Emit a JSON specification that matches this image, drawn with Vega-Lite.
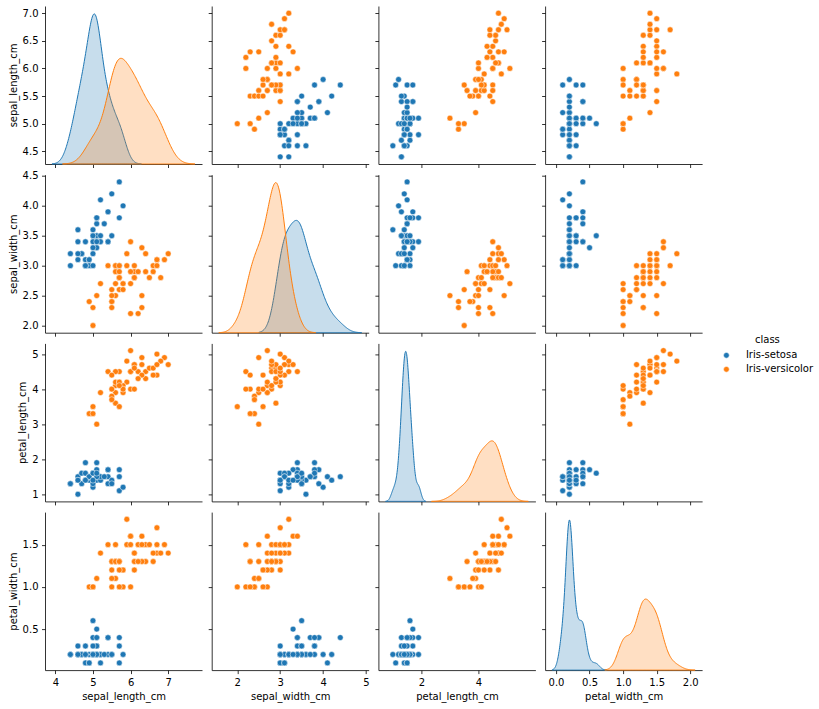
{
"$schema":"https://vega.github.io/schema/vega-lite/v6.json",
"padding":{"left":8,"top":6,"right":5,"bottom":5},
"background":"white",
"datasets":{"iris":[
{"sepal_length_cm":5.1,"sepal_width_cm":3.5,"petal_length_cm":1.4,"petal_width_cm":0.2,"class":"Iris-setosa"},
{"sepal_length_cm":4.9,"sepal_width_cm":3.0,"petal_length_cm":1.4,"petal_width_cm":0.2,"class":"Iris-setosa"},
{"sepal_length_cm":4.7,"sepal_width_cm":3.2,"petal_length_cm":1.3,"petal_width_cm":0.2,"class":"Iris-setosa"},
{"sepal_length_cm":4.6,"sepal_width_cm":3.1,"petal_length_cm":1.5,"petal_width_cm":0.2,"class":"Iris-setosa"},
{"sepal_length_cm":5.0,"sepal_width_cm":3.6,"petal_length_cm":1.4,"petal_width_cm":0.2,"class":"Iris-setosa"},
{"sepal_length_cm":5.4,"sepal_width_cm":3.9,"petal_length_cm":1.7,"petal_width_cm":0.4,"class":"Iris-setosa"},
{"sepal_length_cm":4.6,"sepal_width_cm":3.4,"petal_length_cm":1.4,"petal_width_cm":0.3,"class":"Iris-setosa"},
{"sepal_length_cm":4.8,"sepal_width_cm":3.0,"petal_length_cm":1.4,"petal_width_cm":0.1,"class":"Iris-setosa"},
{"sepal_length_cm":5.7,"sepal_width_cm":3.0,"petal_length_cm":1.1,"petal_width_cm":0.1,"class":"Iris-setosa"},
{"sepal_length_cm":5.8,"sepal_width_cm":4.0,"petal_length_cm":1.2,"petal_width_cm":0.2,"class":"Iris-setosa"},
{"sepal_length_cm":5.7,"sepal_width_cm":4.4,"petal_length_cm":1.5,"petal_width_cm":0.4,"class":"Iris-setosa"},
{"sepal_length_cm":5.4,"sepal_width_cm":3.9,"petal_length_cm":1.3,"petal_width_cm":0.4,"class":"Iris-setosa"},
{"sepal_length_cm":5.1,"sepal_width_cm":3.5,"petal_length_cm":1.4,"petal_width_cm":0.3,"class":"Iris-setosa"},
{"sepal_length_cm":5.7,"sepal_width_cm":3.8,"petal_length_cm":1.7,"petal_width_cm":0.3,"class":"Iris-setosa"},
{"sepal_length_cm":5.1,"sepal_width_cm":3.8,"petal_length_cm":1.5,"petal_width_cm":0.3,"class":"Iris-setosa"},
{"sepal_length_cm":5.4,"sepal_width_cm":3.4,"petal_length_cm":1.7,"petal_width_cm":0.2,"class":"Iris-setosa"},
{"sepal_length_cm":5.1,"sepal_width_cm":3.7,"petal_length_cm":1.5,"petal_width_cm":0.4,"class":"Iris-setosa"},
{"sepal_length_cm":4.6,"sepal_width_cm":3.6,"petal_length_cm":1.0,"petal_width_cm":0.2,"class":"Iris-setosa"},
{"sepal_length_cm":5.1,"sepal_width_cm":3.3,"petal_length_cm":1.7,"petal_width_cm":0.5,"class":"Iris-setosa"},
{"sepal_length_cm":4.8,"sepal_width_cm":3.4,"petal_length_cm":1.9,"petal_width_cm":0.2,"class":"Iris-setosa"},
{"sepal_length_cm":5.0,"sepal_width_cm":3.0,"petal_length_cm":1.6,"petal_width_cm":0.2,"class":"Iris-setosa"},
{"sepal_length_cm":5.0,"sepal_width_cm":3.4,"petal_length_cm":1.6,"petal_width_cm":0.4,"class":"Iris-setosa"},
{"sepal_length_cm":5.2,"sepal_width_cm":3.5,"petal_length_cm":1.5,"petal_width_cm":0.2,"class":"Iris-setosa"},
{"sepal_length_cm":5.2,"sepal_width_cm":3.4,"petal_length_cm":1.4,"petal_width_cm":0.2,"class":"Iris-setosa"},
{"sepal_length_cm":4.7,"sepal_width_cm":3.2,"petal_length_cm":1.6,"petal_width_cm":0.2,"class":"Iris-setosa"},
{"sepal_length_cm":4.8,"sepal_width_cm":3.1,"petal_length_cm":1.6,"petal_width_cm":0.2,"class":"Iris-setosa"},
{"sepal_length_cm":5.4,"sepal_width_cm":3.4,"petal_length_cm":1.5,"petal_width_cm":0.4,"class":"Iris-setosa"},
{"sepal_length_cm":5.2,"sepal_width_cm":4.1,"petal_length_cm":1.5,"petal_width_cm":0.1,"class":"Iris-setosa"},
{"sepal_length_cm":5.5,"sepal_width_cm":4.2,"petal_length_cm":1.4,"petal_width_cm":0.2,"class":"Iris-setosa"},
{"sepal_length_cm":4.9,"sepal_width_cm":3.1,"petal_length_cm":1.5,"petal_width_cm":0.1,"class":"Iris-setosa"},
{"sepal_length_cm":5.0,"sepal_width_cm":3.2,"petal_length_cm":1.2,"petal_width_cm":0.2,"class":"Iris-setosa"},
{"sepal_length_cm":5.5,"sepal_width_cm":3.5,"petal_length_cm":1.3,"petal_width_cm":0.2,"class":"Iris-setosa"},
{"sepal_length_cm":4.9,"sepal_width_cm":3.1,"petal_length_cm":1.5,"petal_width_cm":0.1,"class":"Iris-setosa"},
{"sepal_length_cm":4.4,"sepal_width_cm":3.0,"petal_length_cm":1.3,"petal_width_cm":0.2,"class":"Iris-setosa"},
{"sepal_length_cm":5.1,"sepal_width_cm":3.4,"petal_length_cm":1.5,"petal_width_cm":0.2,"class":"Iris-setosa"},
{"sepal_length_cm":5.0,"sepal_width_cm":3.5,"petal_length_cm":1.3,"petal_width_cm":0.3,"class":"Iris-setosa"},
{"sepal_length_cm":4.4,"sepal_width_cm":3.2,"petal_length_cm":1.3,"petal_width_cm":0.2,"class":"Iris-setosa"},
{"sepal_length_cm":5.0,"sepal_width_cm":3.5,"petal_length_cm":1.6,"petal_width_cm":0.6,"class":"Iris-setosa"},
{"sepal_length_cm":5.1,"sepal_width_cm":3.8,"petal_length_cm":1.9,"petal_width_cm":0.4,"class":"Iris-setosa"},
{"sepal_length_cm":4.8,"sepal_width_cm":3.0,"petal_length_cm":1.4,"petal_width_cm":0.3,"class":"Iris-setosa"},
{"sepal_length_cm":5.1,"sepal_width_cm":3.8,"petal_length_cm":1.6,"petal_width_cm":0.2,"class":"Iris-setosa"},
{"sepal_length_cm":4.6,"sepal_width_cm":3.2,"petal_length_cm":1.4,"petal_width_cm":0.2,"class":"Iris-setosa"},
{"sepal_length_cm":5.3,"sepal_width_cm":3.7,"petal_length_cm":1.5,"petal_width_cm":0.2,"class":"Iris-setosa"},
{"sepal_length_cm":5.0,"sepal_width_cm":3.3,"petal_length_cm":1.4,"petal_width_cm":0.2,"class":"Iris-setosa"},
{"sepal_length_cm":7.0,"sepal_width_cm":3.2,"petal_length_cm":4.7,"petal_width_cm":1.4,"class":"Iris-versicolor"},
{"sepal_length_cm":6.4,"sepal_width_cm":3.2,"petal_length_cm":4.5,"petal_width_cm":1.5,"class":"Iris-versicolor"},
{"sepal_length_cm":6.9,"sepal_width_cm":3.1,"petal_length_cm":4.9,"petal_width_cm":1.5,"class":"Iris-versicolor"},
{"sepal_length_cm":5.5,"sepal_width_cm":2.3,"petal_length_cm":4.0,"petal_width_cm":1.3,"class":"Iris-versicolor"},
{"sepal_length_cm":6.5,"sepal_width_cm":2.8,"petal_length_cm":4.6,"petal_width_cm":1.5,"class":"Iris-versicolor"},
{"sepal_length_cm":5.7,"sepal_width_cm":2.8,"petal_length_cm":4.5,"petal_width_cm":1.3,"class":"Iris-versicolor"},
{"sepal_length_cm":6.3,"sepal_width_cm":3.3,"petal_length_cm":4.7,"petal_width_cm":1.6,"class":"Iris-versicolor"},
{"sepal_length_cm":4.9,"sepal_width_cm":2.4,"petal_length_cm":3.3,"petal_width_cm":1.0,"class":"Iris-versicolor"},
{"sepal_length_cm":6.6,"sepal_width_cm":2.9,"petal_length_cm":4.6,"petal_width_cm":1.3,"class":"Iris-versicolor"},
{"sepal_length_cm":5.2,"sepal_width_cm":2.7,"petal_length_cm":3.9,"petal_width_cm":1.4,"class":"Iris-versicolor"},
{"sepal_length_cm":5.0,"sepal_width_cm":2.0,"petal_length_cm":3.5,"petal_width_cm":1.0,"class":"Iris-versicolor"},
{"sepal_length_cm":5.9,"sepal_width_cm":3.0,"petal_length_cm":4.2,"petal_width_cm":1.5,"class":"Iris-versicolor"},
{"sepal_length_cm":6.0,"sepal_width_cm":2.2,"petal_length_cm":4.0,"petal_width_cm":1.0,"class":"Iris-versicolor"},
{"sepal_length_cm":6.1,"sepal_width_cm":2.9,"petal_length_cm":4.7,"petal_width_cm":1.4,"class":"Iris-versicolor"},
{"sepal_length_cm":5.6,"sepal_width_cm":2.9,"petal_length_cm":3.6,"petal_width_cm":1.3,"class":"Iris-versicolor"},
{"sepal_length_cm":6.7,"sepal_width_cm":3.1,"petal_length_cm":4.4,"petal_width_cm":1.4,"class":"Iris-versicolor"},
{"sepal_length_cm":5.6,"sepal_width_cm":3.0,"petal_length_cm":4.5,"petal_width_cm":1.5,"class":"Iris-versicolor"},
{"sepal_length_cm":5.8,"sepal_width_cm":2.7,"petal_length_cm":4.1,"petal_width_cm":1.0,"class":"Iris-versicolor"},
{"sepal_length_cm":6.2,"sepal_width_cm":2.2,"petal_length_cm":4.5,"petal_width_cm":1.5,"class":"Iris-versicolor"},
{"sepal_length_cm":5.6,"sepal_width_cm":2.5,"petal_length_cm":3.9,"petal_width_cm":1.1,"class":"Iris-versicolor"},
{"sepal_length_cm":5.9,"sepal_width_cm":3.2,"petal_length_cm":4.8,"petal_width_cm":1.8,"class":"Iris-versicolor"},
{"sepal_length_cm":6.1,"sepal_width_cm":2.8,"petal_length_cm":4.0,"petal_width_cm":1.3,"class":"Iris-versicolor"},
{"sepal_length_cm":6.3,"sepal_width_cm":2.5,"petal_length_cm":4.9,"petal_width_cm":1.5,"class":"Iris-versicolor"},
{"sepal_length_cm":6.1,"sepal_width_cm":2.8,"petal_length_cm":4.7,"petal_width_cm":1.2,"class":"Iris-versicolor"},
{"sepal_length_cm":6.4,"sepal_width_cm":2.9,"petal_length_cm":4.3,"petal_width_cm":1.3,"class":"Iris-versicolor"},
{"sepal_length_cm":6.6,"sepal_width_cm":3.0,"petal_length_cm":4.4,"petal_width_cm":1.4,"class":"Iris-versicolor"},
{"sepal_length_cm":6.8,"sepal_width_cm":2.8,"petal_length_cm":4.8,"petal_width_cm":1.4,"class":"Iris-versicolor"},
{"sepal_length_cm":6.7,"sepal_width_cm":3.0,"petal_length_cm":5.0,"petal_width_cm":1.7,"class":"Iris-versicolor"},
{"sepal_length_cm":6.0,"sepal_width_cm":2.9,"petal_length_cm":4.5,"petal_width_cm":1.5,"class":"Iris-versicolor"},
{"sepal_length_cm":5.7,"sepal_width_cm":2.6,"petal_length_cm":3.5,"petal_width_cm":1.0,"class":"Iris-versicolor"},
{"sepal_length_cm":5.5,"sepal_width_cm":2.4,"petal_length_cm":3.8,"petal_width_cm":1.1,"class":"Iris-versicolor"},
{"sepal_length_cm":5.5,"sepal_width_cm":2.4,"petal_length_cm":3.7,"petal_width_cm":1.0,"class":"Iris-versicolor"},
{"sepal_length_cm":5.8,"sepal_width_cm":2.7,"petal_length_cm":3.9,"petal_width_cm":1.2,"class":"Iris-versicolor"},
{"sepal_length_cm":6.0,"sepal_width_cm":2.7,"petal_length_cm":5.1,"petal_width_cm":1.6,"class":"Iris-versicolor"},
{"sepal_length_cm":5.4,"sepal_width_cm":3.0,"petal_length_cm":4.5,"petal_width_cm":1.5,"class":"Iris-versicolor"},
{"sepal_length_cm":6.0,"sepal_width_cm":3.4,"petal_length_cm":4.5,"petal_width_cm":1.6,"class":"Iris-versicolor"},
{"sepal_length_cm":6.7,"sepal_width_cm":3.1,"petal_length_cm":4.7,"petal_width_cm":1.5,"class":"Iris-versicolor"},
{"sepal_length_cm":6.3,"sepal_width_cm":2.3,"petal_length_cm":4.4,"petal_width_cm":1.3,"class":"Iris-versicolor"},
{"sepal_length_cm":5.6,"sepal_width_cm":3.0,"petal_length_cm":4.1,"petal_width_cm":1.3,"class":"Iris-versicolor"},
{"sepal_length_cm":5.5,"sepal_width_cm":2.5,"petal_length_cm":4.0,"petal_width_cm":1.3,"class":"Iris-versicolor"},
{"sepal_length_cm":5.5,"sepal_width_cm":2.6,"petal_length_cm":4.4,"petal_width_cm":1.2,"class":"Iris-versicolor"},
{"sepal_length_cm":6.1,"sepal_width_cm":3.0,"petal_length_cm":4.6,"petal_width_cm":1.4,"class":"Iris-versicolor"},
{"sepal_length_cm":5.8,"sepal_width_cm":2.6,"petal_length_cm":4.0,"petal_width_cm":1.2,"class":"Iris-versicolor"},
{"sepal_length_cm":5.0,"sepal_width_cm":2.3,"petal_length_cm":3.3,"petal_width_cm":1.0,"class":"Iris-versicolor"},
{"sepal_length_cm":5.6,"sepal_width_cm":2.7,"petal_length_cm":4.2,"petal_width_cm":1.3,"class":"Iris-versicolor"},
{"sepal_length_cm":5.7,"sepal_width_cm":3.0,"petal_length_cm":4.2,"petal_width_cm":1.2,"class":"Iris-versicolor"},
{"sepal_length_cm":5.7,"sepal_width_cm":2.9,"petal_length_cm":4.2,"petal_width_cm":1.3,"class":"Iris-versicolor"},
{"sepal_length_cm":6.2,"sepal_width_cm":2.9,"petal_length_cm":4.3,"petal_width_cm":1.3,"class":"Iris-versicolor"},
{"sepal_length_cm":5.1,"sepal_width_cm":2.5,"petal_length_cm":3.0,"petal_width_cm":1.1,"class":"Iris-versicolor"},
{"sepal_length_cm":5.7,"sepal_width_cm":2.8,"petal_length_cm":4.1,"petal_width_cm":1.3,"class":"Iris-versicolor"}
]},
"config":{
"view":{"stroke":null},
"font":"DejaVu Sans",
"axis":{"grid":false,"domainColor":"#000000","domainWidth":0.8,"tickColor":"#000000","tickWidth":0.8,"tickSize":3.5,"labelFont":"DejaVu Sans","labelFontSize":10,"labelColor":"#000000","labelPadding":3.5,"titleFont":"DejaVu Sans","titleFontSize":10,"titleFontWeight":"normal","titleColor":"#000000","titlePadding":4,"labelFlush":false,"labelOverlap":false,"labelBound":false},
"legend":{"labelFont":"DejaVu Sans","labelFontSize":10,"labelColor":"#000000","titleFont":"DejaVu Sans","titleFontSize":10,"titleFontWeight":"normal","titleColor":"#000000"}
},
"bounds":"flush",
"columns":4,
"spacing":{"row":10.7,"column":9.7},
"resolve":{"legend":{"color":"independent"}},
"concat":[
 {"width":157,"height":158,"resolve":{"scale":{"y":"independent"}},"layer":[
  {"data":{"name":"iris"},"mark":{"type":"point","opacity":0},"encoding":{"y":{"field":"sepal_length_cm","type":"quantitative","scale":{"domain":[4.27,7.13],"nice":false,"zero":false},"axis":{"orient":"left","values":[4.5,5,5.5,6,6.5,7],"format":".1f","title":"sepal_length_cm"}}}},
  {"layer":[
  {"data":{"name":"iris"},"transform":[{"filter":{"field":"class","equal":"Iris-setosa"}},{"density":"sepal_length_cm","groupby":["class"],"bandwidth":0.1616,"extent":[3.915,6.285],"steps":200,"counts":true,"as":["value","density"]}],
   "mark":{"type":"area","fillOpacity":0.25,"strokeWidth":1},
   "encoding":{"x":{"field":"value","type":"quantitative","scale":{"domain":[3.725,7.898],"nice":false,"zero":false},"axis":{"values":[4,5,6,7],"labels":false,"title":null}},
    "y":{"field":"density","type":"quantitative","scale":{"zero":true,"nice":false,"range":[158,7.9]},"axis":null},
    "fill":{"field":"class","type":"nominal","scale":{"domain":["Iris-setosa","Iris-versicolor"],"range":["#1f77b4","#ff7f0e"]},"legend":null},
    "stroke":{"field":"class","type":"nominal","scale":{"domain":["Iris-setosa","Iris-versicolor"],"range":["#1f77b4","#ff7f0e"]},"legend":null}}},
  {"data":{"name":"iris"},"transform":[{"filter":{"field":"class","equal":"Iris-versicolor"}},{"density":"sepal_length_cm","groupby":["class"],"bandwidth":0.2361,"extent":[4.192,7.708],"steps":200,"counts":true,"as":["value","density"]}],
   "mark":{"type":"area","fillOpacity":0.25,"strokeWidth":1},
   "encoding":{"x":{"field":"value","type":"quantitative","scale":{"domain":[3.725,7.898],"nice":false,"zero":false},"axis":{"values":[4,5,6,7],"labels":false,"title":null}},
    "y":{"field":"density","type":"quantitative","scale":{"zero":true,"nice":false,"range":[158,7.9]},"axis":null},
    "fill":{"field":"class","type":"nominal","scale":{"domain":["Iris-setosa","Iris-versicolor"],"range":["#1f77b4","#ff7f0e"]},"legend":null},
    "stroke":{"field":"class","type":"nominal","scale":{"domain":["Iris-setosa","Iris-versicolor"],"range":["#1f77b4","#ff7f0e"]},"legend":null}}}
  ]}
 ]},
 {"width":157,"height":158,"data":{"name":"iris"},"mark":{"type":"circle","size":34,"opacity":1,"stroke":"white","strokeWidth":0.5},
  "encoding":{"x":{"field":"sepal_width_cm","type":"quantitative","scale":{"domain":[1.404,5.062],"nice":false,"zero":false},"axis":{"values":[2,3,4,5],"labels":false,"title":null}},
   "y":{"field":"sepal_length_cm","type":"quantitative","scale":{"domain":[4.27,7.13],"nice":false,"zero":false},"axis":{"values":[4.5,5,5.5,6,6.5,7],"labels":false,"title":null}},
   "color":{"field":"class","type":"nominal","scale":{"domain":["Iris-setosa","Iris-versicolor"],"range":["#1f77b4","#ff7f0e"]},
    "legend":{"title":"class","orient":"none","legendX":509.7,"legendY":329.3,"titleAnchor":"middle","titleAlign":"center","symbolType":"circle","symbolSize":32,"symbolStrokeColor":"white","symbolStrokeWidth":0.5,"labelOffset":14.5,"rowPadding":4}}}},
 {"width":157,"height":158,"data":{"name":"iris"},"mark":{"type":"circle","size":34,"opacity":1,"stroke":"white","strokeWidth":0.5},
  "encoding":{"x":{"field":"petal_length_cm","type":"quantitative","scale":{"domain":[0.494,5.994],"nice":false,"zero":false},"axis":{"values":[2,4],"labels":false,"title":null}},
   "y":{"field":"sepal_length_cm","type":"quantitative","scale":{"domain":[4.27,7.13],"nice":false,"zero":false},"axis":{"values":[4.5,5,5.5,6,6.5,7],"labels":false,"title":null}},
   "color":{"field":"class","type":"nominal","scale":{"domain":["Iris-setosa","Iris-versicolor"],"range":["#1f77b4","#ff7f0e"]},"legend":null}}},
 {"width":157,"height":158,"data":{"name":"iris"},"mark":{"type":"circle","size":34,"opacity":1,"stroke":"white","strokeWidth":0.5},
  "encoding":{"x":{"field":"petal_width_cm","type":"quantitative","scale":{"domain":[-0.162,2.176],"nice":false,"zero":false},"axis":{"values":[0,0.5,1,1.5,2],"labels":false,"title":null}},
   "y":{"field":"sepal_length_cm","type":"quantitative","scale":{"domain":[4.27,7.13],"nice":false,"zero":false},"axis":{"values":[4.5,5,5.5,6,6.5,7],"labels":false,"title":null}},
   "color":{"field":"class","type":"nominal","scale":{"domain":["Iris-setosa","Iris-versicolor"],"range":["#1f77b4","#ff7f0e"]},"legend":null}}},
 {"width":157,"height":158,"data":{"name":"iris"},"mark":{"type":"circle","size":34,"opacity":1,"stroke":"white","strokeWidth":0.5},
  "encoding":{"x":{"field":"sepal_length_cm","type":"quantitative","scale":{"domain":[3.725,7.898],"nice":false,"zero":false},"axis":{"values":[4,5,6,7],"labels":false,"title":null}},
   "y":{"field":"sepal_width_cm","type":"quantitative","scale":{"domain":[1.88,4.52],"nice":false,"zero":false},"axis":{"values":[2,2.5,3,3.5,4,4.5],"format":".1f","title":"sepal_width_cm"}},
   "color":{"field":"class","type":"nominal","scale":{"domain":["Iris-setosa","Iris-versicolor"],"range":["#1f77b4","#ff7f0e"]},"legend":null}}},
 {"width":157,"height":158,"resolve":{"scale":{"y":"independent"}},"layer":[
  {"data":{"name":"iris"},"mark":{"type":"point","opacity":0},"encoding":{"y":{"field":"sepal_width_cm","type":"quantitative","scale":{"domain":[1.88,4.52],"nice":false,"zero":false},"axis":{"orient":"left","values":[2,2.5,3,3.5,4,4.5],"labels":false,"title":null}}}},
  {"layer":[
  {"data":{"name":"iris"},"transform":[{"filter":{"field":"class","equal":"Iris-setosa"}},{"density":"sepal_width_cm","groupby":["class"],"bandwidth":0.1654,"extent":[2.504,4.896],"steps":200,"counts":true,"as":["value","density"]}],
   "mark":{"type":"area","fillOpacity":0.25,"strokeWidth":1},
   "encoding":{"x":{"field":"value","type":"quantitative","scale":{"domain":[1.404,5.062],"nice":false,"zero":false},"axis":{"values":[2,3,4,5],"labels":false,"title":null}},
    "y":{"field":"density","type":"quantitative","scale":{"zero":true,"nice":false,"range":[158,7.9]},"axis":null},
    "fill":{"field":"class","type":"nominal","scale":{"domain":["Iris-setosa","Iris-versicolor"],"range":["#1f77b4","#ff7f0e"]},"legend":null},
    "stroke":{"field":"class","type":"nominal","scale":{"domain":["Iris-setosa","Iris-versicolor"],"range":["#1f77b4","#ff7f0e"]},"legend":null}}},
  {"data":{"name":"iris"},"transform":[{"filter":{"field":"class","equal":"Iris-versicolor"}},{"density":"sepal_width_cm","groupby":["class"],"bandwidth":0.1435,"extent":[1.57,3.83],"steps":200,"counts":true,"as":["value","density"]}],
   "mark":{"type":"area","fillOpacity":0.25,"strokeWidth":1},
   "encoding":{"x":{"field":"value","type":"quantitative","scale":{"domain":[1.404,5.062],"nice":false,"zero":false},"axis":{"values":[2,3,4,5],"labels":false,"title":null}},
    "y":{"field":"density","type":"quantitative","scale":{"zero":true,"nice":false,"range":[158,7.9]},"axis":null},
    "fill":{"field":"class","type":"nominal","scale":{"domain":["Iris-setosa","Iris-versicolor"],"range":["#1f77b4","#ff7f0e"]},"legend":null},
    "stroke":{"field":"class","type":"nominal","scale":{"domain":["Iris-setosa","Iris-versicolor"],"range":["#1f77b4","#ff7f0e"]},"legend":null}}}
  ]}
 ]},
 {"width":157,"height":158,"data":{"name":"iris"},"mark":{"type":"circle","size":34,"opacity":1,"stroke":"white","strokeWidth":0.5},
  "encoding":{"x":{"field":"petal_length_cm","type":"quantitative","scale":{"domain":[0.494,5.994],"nice":false,"zero":false},"axis":{"values":[2,4],"labels":false,"title":null}},
   "y":{"field":"sepal_width_cm","type":"quantitative","scale":{"domain":[1.88,4.52],"nice":false,"zero":false},"axis":{"values":[2,2.5,3,3.5,4,4.5],"labels":false,"title":null}},
   "color":{"field":"class","type":"nominal","scale":{"domain":["Iris-setosa","Iris-versicolor"],"range":["#1f77b4","#ff7f0e"]},"legend":null}}},
 {"width":157,"height":158,"data":{"name":"iris"},"mark":{"type":"circle","size":34,"opacity":1,"stroke":"white","strokeWidth":0.5},
  "encoding":{"x":{"field":"petal_width_cm","type":"quantitative","scale":{"domain":[-0.162,2.176],"nice":false,"zero":false},"axis":{"values":[0,0.5,1,1.5,2],"labels":false,"title":null}},
   "y":{"field":"sepal_width_cm","type":"quantitative","scale":{"domain":[1.88,4.52],"nice":false,"zero":false},"axis":{"values":[2,2.5,3,3.5,4,4.5],"labels":false,"title":null}},
   "color":{"field":"class","type":"nominal","scale":{"domain":["Iris-setosa","Iris-versicolor"],"range":["#1f77b4","#ff7f0e"]},"legend":null}}},
 {"width":157,"height":158,"data":{"name":"iris"},"mark":{"type":"circle","size":34,"opacity":1,"stroke":"white","strokeWidth":0.5},
  "encoding":{"x":{"field":"sepal_length_cm","type":"quantitative","scale":{"domain":[3.725,7.898],"nice":false,"zero":false},"axis":{"values":[4,5,6,7],"labels":false,"title":null}},
   "y":{"field":"petal_length_cm","type":"quantitative","scale":{"domain":[0.795,5.305],"nice":false,"zero":false},"axis":{"values":[1,2,3,4,5],"format":"d","title":"petal_length_cm"}},
   "color":{"field":"class","type":"nominal","scale":{"domain":["Iris-setosa","Iris-versicolor"],"range":["#1f77b4","#ff7f0e"]},"legend":null}}},
 {"width":157,"height":158,"data":{"name":"iris"},"mark":{"type":"circle","size":34,"opacity":1,"stroke":"white","strokeWidth":0.5},
  "encoding":{"x":{"field":"sepal_width_cm","type":"quantitative","scale":{"domain":[1.404,5.062],"nice":false,"zero":false},"axis":{"values":[2,3,4,5],"labels":false,"title":null}},
   "y":{"field":"petal_length_cm","type":"quantitative","scale":{"domain":[0.795,5.305],"nice":false,"zero":false},"axis":{"values":[1,2,3,4,5],"labels":false,"title":null}},
   "color":{"field":"class","type":"nominal","scale":{"domain":["Iris-setosa","Iris-versicolor"],"range":["#1f77b4","#ff7f0e"]},"legend":null}}},
 {"width":157,"height":158,"resolve":{"scale":{"y":"independent"}},"layer":[
  {"data":{"name":"iris"},"mark":{"type":"point","opacity":0},"encoding":{"y":{"field":"petal_length_cm","type":"quantitative","scale":{"domain":[0.795,5.305],"nice":false,"zero":false},"axis":{"orient":"left","values":[1,2,3,4,5],"labels":false,"title":null}}}},
  {"layer":[
  {"data":{"name":"iris"},"transform":[{"filter":{"field":"class","equal":"Iris-setosa"}},{"density":"petal_length_cm","groupby":["class"],"bandwidth":0.0853,"extent":[0.744,2.156],"steps":200,"counts":true,"as":["value","density"]}],
   "mark":{"type":"area","fillOpacity":0.25,"strokeWidth":1},
   "encoding":{"x":{"field":"value","type":"quantitative","scale":{"domain":[0.494,5.994],"nice":false,"zero":false},"axis":{"values":[2,4],"labels":false,"title":null}},
    "y":{"field":"density","type":"quantitative","scale":{"zero":true,"nice":false,"range":[158,7.9]},"axis":null},
    "fill":{"field":"class","type":"nominal","scale":{"domain":["Iris-setosa","Iris-versicolor"],"range":["#1f77b4","#ff7f0e"]},"legend":null},
    "stroke":{"field":"class","type":"nominal","scale":{"domain":["Iris-setosa","Iris-versicolor"],"range":["#1f77b4","#ff7f0e"]},"legend":null}}},
  {"data":{"name":"iris"},"transform":[{"filter":{"field":"class","equal":"Iris-versicolor"}},{"density":"petal_length_cm","groupby":["class"],"bandwidth":0.2149,"extent":[2.355,5.745],"steps":200,"counts":true,"as":["value","density"]}],
   "mark":{"type":"area","fillOpacity":0.25,"strokeWidth":1},
   "encoding":{"x":{"field":"value","type":"quantitative","scale":{"domain":[0.494,5.994],"nice":false,"zero":false},"axis":{"values":[2,4],"labels":false,"title":null}},
    "y":{"field":"density","type":"quantitative","scale":{"zero":true,"nice":false,"range":[158,7.9]},"axis":null},
    "fill":{"field":"class","type":"nominal","scale":{"domain":["Iris-setosa","Iris-versicolor"],"range":["#1f77b4","#ff7f0e"]},"legend":null},
    "stroke":{"field":"class","type":"nominal","scale":{"domain":["Iris-setosa","Iris-versicolor"],"range":["#1f77b4","#ff7f0e"]},"legend":null}}}
  ]}
 ]},
 {"width":157,"height":158,"data":{"name":"iris"},"mark":{"type":"circle","size":34,"opacity":1,"stroke":"white","strokeWidth":0.5},
  "encoding":{"x":{"field":"petal_width_cm","type":"quantitative","scale":{"domain":[-0.162,2.176],"nice":false,"zero":false},"axis":{"values":[0,0.5,1,1.5,2],"labels":false,"title":null}},
   "y":{"field":"petal_length_cm","type":"quantitative","scale":{"domain":[0.795,5.305],"nice":false,"zero":false},"axis":{"values":[1,2,3,4,5],"labels":false,"title":null}},
   "color":{"field":"class","type":"nominal","scale":{"domain":["Iris-setosa","Iris-versicolor"],"range":["#1f77b4","#ff7f0e"]},"legend":null}}},
 {"width":157,"height":158,"data":{"name":"iris"},"mark":{"type":"circle","size":34,"opacity":1,"stroke":"white","strokeWidth":0.5},
  "encoding":{"x":{"field":"sepal_length_cm","type":"quantitative","scale":{"domain":[3.725,7.898],"nice":false,"zero":false},"axis":{"values":[4,5,6,7],"format":"d","title":"sepal_length_cm"}},
   "y":{"field":"petal_width_cm","type":"quantitative","scale":{"domain":[0.015,1.885],"nice":false,"zero":false},"axis":{"values":[0.5,1,1.5],"format":".1f","title":"petal_width_cm"}},
   "color":{"field":"class","type":"nominal","scale":{"domain":["Iris-setosa","Iris-versicolor"],"range":["#1f77b4","#ff7f0e"]},"legend":null}}},
 {"width":157,"height":158,"data":{"name":"iris"},"mark":{"type":"circle","size":34,"opacity":1,"stroke":"white","strokeWidth":0.5},
  "encoding":{"x":{"field":"sepal_width_cm","type":"quantitative","scale":{"domain":[1.404,5.062],"nice":false,"zero":false},"axis":{"values":[2,3,4,5],"format":"d","title":"sepal_width_cm"}},
   "y":{"field":"petal_width_cm","type":"quantitative","scale":{"domain":[0.015,1.885],"nice":false,"zero":false},"axis":{"values":[0.5,1,1.5],"labels":false,"title":null}},
   "color":{"field":"class","type":"nominal","scale":{"domain":["Iris-setosa","Iris-versicolor"],"range":["#1f77b4","#ff7f0e"]},"legend":null}}},
 {"width":157,"height":158,"data":{"name":"iris"},"mark":{"type":"circle","size":34,"opacity":1,"stroke":"white","strokeWidth":0.5},
  "encoding":{"x":{"field":"petal_length_cm","type":"quantitative","scale":{"domain":[0.494,5.994],"nice":false,"zero":false},"axis":{"values":[2,4],"format":"d","title":"petal_length_cm"}},
   "y":{"field":"petal_width_cm","type":"quantitative","scale":{"domain":[0.015,1.885],"nice":false,"zero":false},"axis":{"values":[0.5,1,1.5],"labels":false,"title":null}},
   "color":{"field":"class","type":"nominal","scale":{"domain":["Iris-setosa","Iris-versicolor"],"range":["#1f77b4","#ff7f0e"]},"legend":null}}},
 {"width":157,"height":158,"resolve":{"scale":{"y":"independent"}},"layer":[
  {"data":{"name":"iris"},"mark":{"type":"point","opacity":0},"encoding":{"y":{"field":"petal_width_cm","type":"quantitative","scale":{"domain":[0.015,1.885],"nice":false,"zero":false},"axis":{"orient":"left","values":[0.5,1,1.5],"labels":false,"title":null}}}},
  {"layer":[
  {"data":{"name":"iris"},"transform":[{"filter":{"field":"class","equal":"Iris-setosa"}},{"density":"petal_width_cm","groupby":["class"],"bandwidth":0.0521,"extent":[-0.056,0.756],"steps":200,"counts":true,"as":["value","density"]}],
   "mark":{"type":"area","fillOpacity":0.25,"strokeWidth":1},
   "encoding":{"x":{"field":"value","type":"quantitative","scale":{"domain":[-0.162,2.176],"nice":false,"zero":false},"axis":{"values":[0,0.5,1,1.5,2],"format":".1f","title":"petal_width_cm"}},
    "y":{"field":"density","type":"quantitative","scale":{"zero":true,"nice":false,"range":[158,7.9]},"axis":null},
    "fill":{"field":"class","type":"nominal","scale":{"domain":["Iris-setosa","Iris-versicolor"],"range":["#1f77b4","#ff7f0e"]},"legend":null},
    "stroke":{"field":"class","type":"nominal","scale":{"domain":["Iris-setosa","Iris-versicolor"],"range":["#1f77b4","#ff7f0e"]},"legend":null}}},
  {"data":{"name":"iris"},"transform":[{"filter":{"field":"class","equal":"Iris-versicolor"}},{"density":"petal_width_cm","groupby":["class"],"bandwidth":0.0905,"extent":[0.728,2.072],"steps":200,"counts":true,"as":["value","density"]}],
   "mark":{"type":"area","fillOpacity":0.25,"strokeWidth":1},
   "encoding":{"x":{"field":"value","type":"quantitative","scale":{"domain":[-0.162,2.176],"nice":false,"zero":false},"axis":{"values":[0,0.5,1,1.5,2],"format":".1f","title":"petal_width_cm"}},
    "y":{"field":"density","type":"quantitative","scale":{"zero":true,"nice":false,"range":[158,7.9]},"axis":null},
    "fill":{"field":"class","type":"nominal","scale":{"domain":["Iris-setosa","Iris-versicolor"],"range":["#1f77b4","#ff7f0e"]},"legend":null},
    "stroke":{"field":"class","type":"nominal","scale":{"domain":["Iris-setosa","Iris-versicolor"],"range":["#1f77b4","#ff7f0e"]},"legend":null}}}
  ]}
 ]}
]
}
